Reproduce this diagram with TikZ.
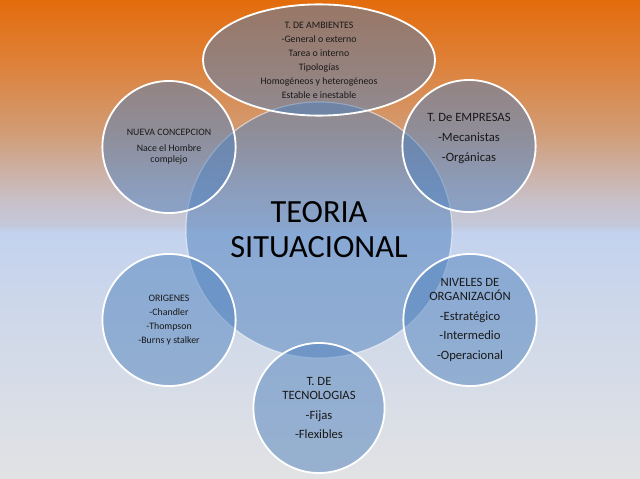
\documentclass[tikz,border=0pt]{standalone}
\usepackage{fontspec}
\setmainfont{Carlito}
\usetikzlibrary{shapes.geometric}

\definecolor{bubblefill}{HTML}{4F81BD}
\definecolor{bggray}{RGB}{226,226,228}
\definecolor{bgpale}{RGB}{208,217,233}
\definecolor{bgblue}{RGB}{195,210,238}
\definecolor{bglilac}{RGB}{195,200,218}
\definecolor{bgmauve}{RGB}{200,192,200}
\definecolor{bgpeach}{RGB}{210,155,115}
\definecolor{bgamber}{RGB}{222,128,55}
\definecolor{bgorange}{RGB}{227,108,12}
\pgfdeclareverticalshading{slidebg}{100bp}{color(0bp)=(bggray); color(25bp)=(bggray);
  color(40.6bp)=(bgpale); color(50.7bp)=(bgblue); color(51.5bp)=(bglilac);
  color(54.1bp)=(bgmauve); color(61.4bp)=(bgpeach); color(68.7bp)=(bgamber);
  color(75bp)=(bgorange); color(100bp)=(bgorange)}

\begin{document}
\begin{tikzpicture}[x=0.025cm, y=-0.025cm,
    hub/.style={ellipse, minimum width=6.65cm, minimum height=6.4cm, inner sep=0pt,
      fill=bubblefill, fill opacity=0.5, draw=white, draw opacity=0.55, line width=0.8pt,
      text=black, text opacity=1, align=center, font=\fontsize{23}{25}\selectfont},
    bubble/.style={ellipse, minimum width=3.33cm, minimum height=3.3cm, inner sep=0pt,
      fill=bubblefill, fill opacity=0.5, draw=white, line width=1.3pt,
      text=black!90, text opacity=1, align=center},
    smalltext/.style={font=\fontsize{7}{10}\selectfont},
    bigtext/.style={font=\fontsize{9}{10}\selectfont}]
  \useasboundingbox (0,0) rectangle (640,479);
  \shade [shading=slidebg] (0,0) rectangle (640,479);

  \node [hub] (teoria) at (319,230) {TEORIA\\SITUACIONAL};

  \node [bubble, smalltext, minimum width=5.8cm, minimum height=2.78cm] (ambientes) at (319,60)
    {T. DE AMBIENTES\\-General o externo\\Tarea o interno\\Tipologías\\Homogéneos y heterogéneos\\Estable e inestable};
  \node [bubble, font=\fontsize{7}{8}\selectfont] (nueva) at (169,147)
    {NUEVA CONCEPCION\\[3pt]Nace el Hombre\\complejo};
  \node [bubble, font=\fontsize{9}{14}\selectfont, text depth=12pt] (empresas) at (469,146)
    {T. De EMPRESAS\\-Mecanistas\\-Orgánicas};
  \node [bubble, smalltext] (origenes) at (169,320)
    {ORIGENES\\-Chandler\\-Thompson\\-Burns y stalker};
  \node [bubble, bigtext] (niveles) at (470,320)
    {NIVELES DE\\ORGANIZACIÓN\\[4pt]-Estratégico\\[4pt]-Intermedio\\[4pt]-Operacional};
  \node [bubble, bigtext, minimum width=3.28cm, minimum height=3.25cm] (tecnologias) at (319,408)
    {T. DE\\TECNOLOGIAS\\[4pt]-Fijas\\[4pt]-Flexibles};
\end{tikzpicture}
\end{document}
